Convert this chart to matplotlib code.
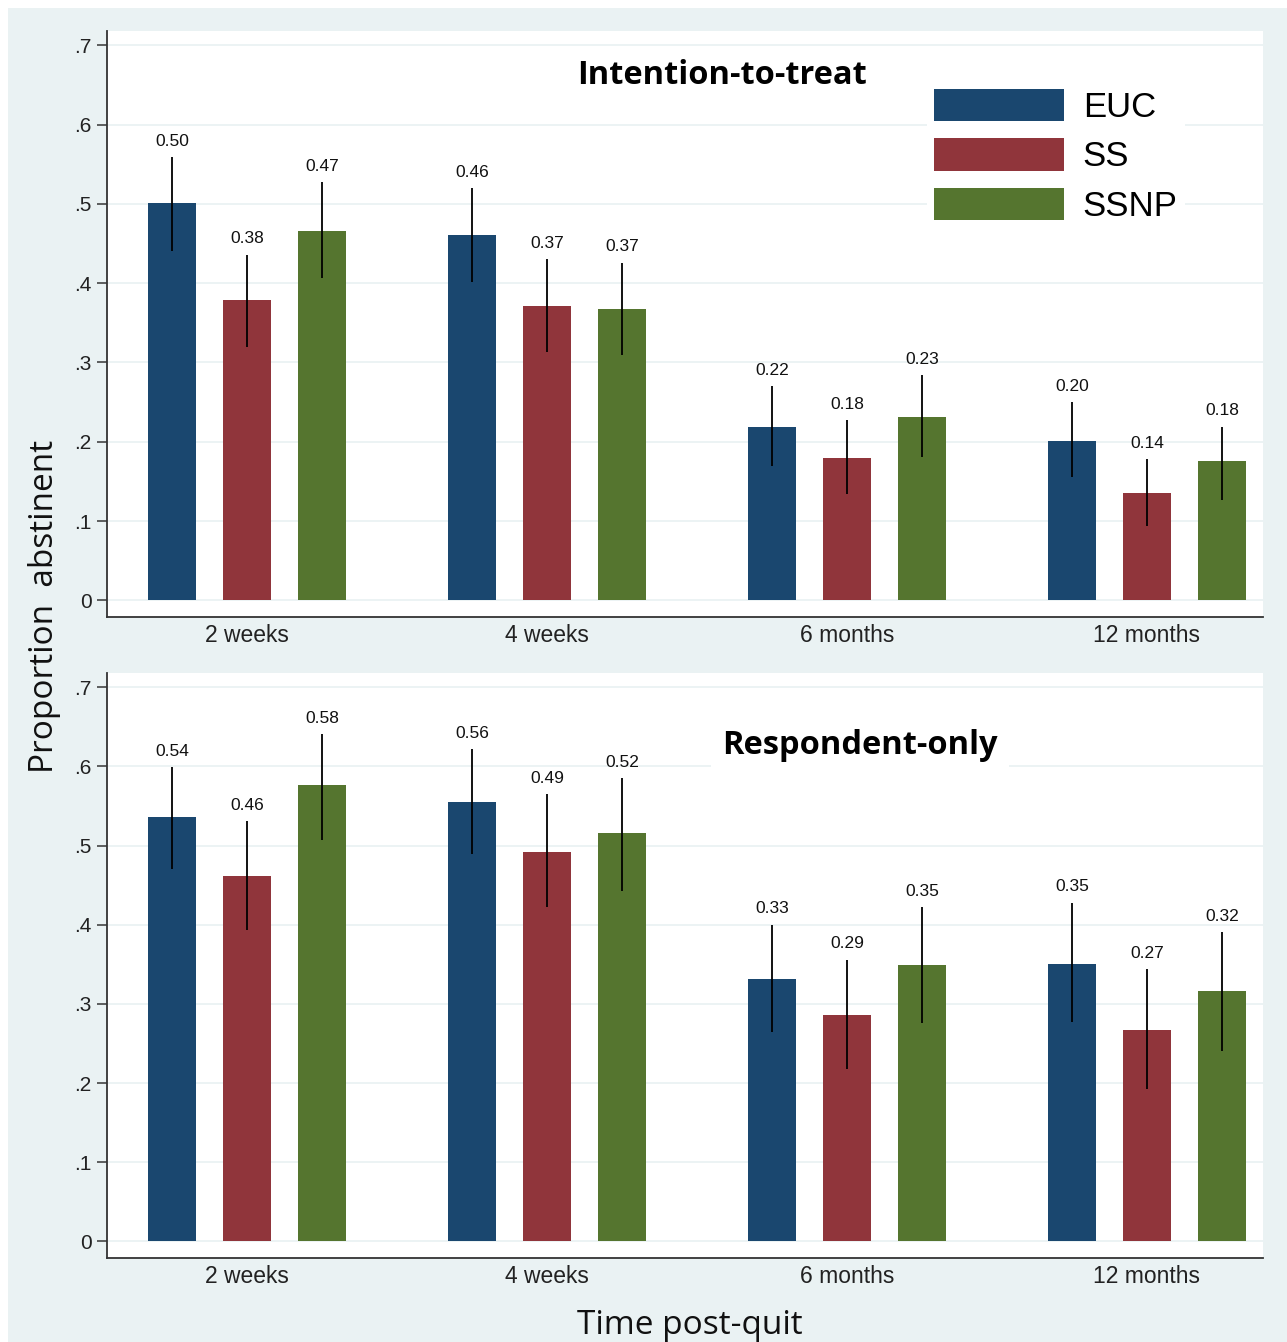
import numpy as np
import matplotlib
matplotlib.use("Agg")
import matplotlib.pyplot as plt
from matplotlib.patches import Rectangle

# data
groups = ["EUC", "SS", "SSNP"]
times = ["2 weeks", "4 weeks", "6 months", "12 months"]
colors = ["#1A476F", "#90353B", "#55752F"]

itt_mean = [[0.501, 0.461, 0.219, 0.201],
            [0.379, 0.371, 0.180, 0.136],
            [0.466, 0.367, 0.231, 0.176]]
itt_lo = [[0.441, 0.402, 0.170, 0.155],
          [0.320, 0.313, 0.134, 0.094],
          [0.407, 0.310, 0.181, 0.127]]
itt_hi = [[0.559, 0.520, 0.270, 0.250],
          [0.436, 0.430, 0.227, 0.178],
          [0.527, 0.426, 0.284, 0.219]]

resp_mean = [[0.536, 0.555, 0.331, 0.351],
             [0.462, 0.492, 0.286, 0.267],
             [0.576, 0.516, 0.349, 0.316]]
resp_lo = [[0.470, 0.489, 0.264, 0.277],
           [0.393, 0.422, 0.218, 0.193],
           [0.507, 0.443, 0.276, 0.241]]
resp_hi = [[0.599, 0.622, 0.400, 0.428],
           [0.531, 0.565, 0.356, 0.344],
           [0.641, 0.585, 0.422, 0.391]]

yticks = [0, 0.1, 0.2, 0.3, 0.4, 0.5, 0.6, 0.7]
ytick_labels = ["0", ".1", ".2", ".3", ".4", ".5", ".6", ".7"]

BG = "#EAF2F3"
W, H = 1287, 1342
fig = plt.figure(figsize=(W / 100, H / 100), dpi=100, facecolor="white")
fig.patches.append(Rectangle((8 / W, 0), 1 - 8 / W, 1 - 8 / H, transform=fig.transFigure,
                             facecolor=BG, edgecolor="none", zorder=-10))


def panel(rect, mean, lo, hi, title, title_xy, legend):
    ax = fig.add_axes(rect)
    ax.set_facecolor("white")
    x = np.arange(len(times))
    offs = [-0.25, 0, 0.25]
    for g in range(3):
        xs = x + offs[g]
        m = np.array(mean[g])
        ax.bar(xs, m, width=0.16, color=colors[g], label=groups[g], zorder=2)
        ax.vlines(xs, lo[g], hi[g], color="black", lw=1.3, zorder=3)
        for xi, mi, hi_ in zip(xs, m, hi[g]):
            ax.annotate("%.2f" % mi, (xi, hi_), xytext=(0, 6), textcoords="offset points",
                        ha="center", va="bottom", fontsize=12.5, family="Liberation Sans",
                        color="#111111")
    ax.set_xlim(-0.467, 3.387)
    ax.set_ylim(-0.021, 0.718)
    ax.set_yticks(yticks)
    ax.set_yticklabels(ytick_labels, fontsize=15, family="Liberation Sans", color="#222222")
    ax.set_xticks(x)
    ax.set_xticklabels(times, fontsize=16.5, family="Liberation Sans", color="#222222")
    ax.tick_params(axis="x", length=0, pad=5)
    ax.tick_params(axis="y", length=7, width=1.2, color="#444444", pad=4)
    ax.grid(axis="y", color=BG, lw=1.3, zorder=0)
    ax.set_axisbelow(True)
    for s in ["top", "right"]:
        ax.spines[s].set_visible(False)
    for s in ["left", "bottom"]:
        ax.spines[s].set_color("#333333")
        ax.spines[s].set_linewidth(1.3)
    ax.text(title_xy[0], title_xy[1], title, transform=ax.transAxes, ha="center", va="center",
            fontsize=23.5, fontweight="bold", family="Open Sans", zorder=5,
            bbox=dict(facecolor="white", edgecolor="none", pad=8))
    if legend:
        leg = ax.legend(loc="upper left", bbox_to_anchor=(0.709, 0.913), frameon=True,
                        handlelength=3.75, handleheight=1.05, handletextpad=0.55,
                        labelspacing=0.42, borderaxespad=0, borderpad=0.2,
                        prop={"family": "Liberation Sans", "size": 25})
        leg.get_frame().set_facecolor("white")
        leg.get_frame().set_edgecolor("none")
        leg.get_frame().set_alpha(1)
        leg.get_frame().set_boxstyle("square", pad=0)
        leg.set_zorder(6)
    return ax


ax1 = panel([107 / W, 1 - 617 / H, (1263 - 107) / W, (617 - 31) / H],
            itt_mean, itt_lo, itt_hi, "Intention-to-treat", ((722 - 107) / 1156, (617 - 76) / 586), True)
ax2 = panel([107 / W, 1 - 1258 / H, (1263 - 107) / W, (1258 - 673) / H],
            resp_mean, resp_lo, resp_hi, "Respondent-only", ((860 - 107) / 1156, (1258 - 746) / 585), False)

fig.text(45 / W, 1 - 606 / H, "Proportion  abstinent", rotation=90, ha="center", va="center",
         fontsize=24, family="Open Sans", color="#111111")
fig.text(690 / W, 1 - 1326 / H, "Time post-quit", ha="center", va="center",
         fontsize=24, family="Open Sans", color="#111111")

fig.savefig("out.png", dpi=100, facecolor=fig.get_facecolor())
